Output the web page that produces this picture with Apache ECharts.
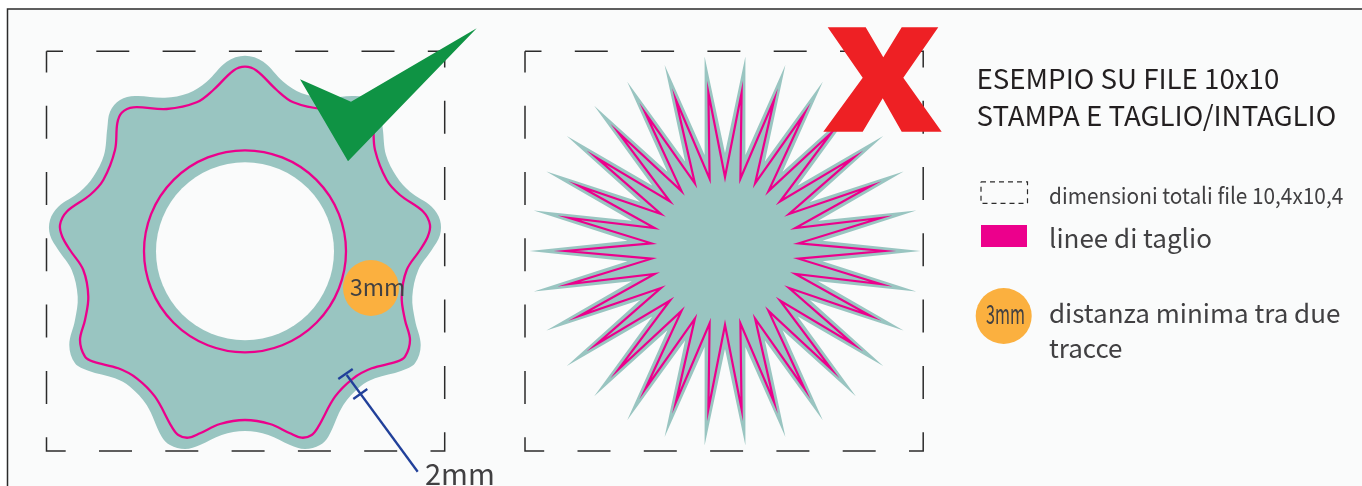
<!DOCTYPE html>
<html><head><meta charset="utf-8">
<style>html,body{margin:0;padding:0;background:#fff;overflow:hidden}#c{width:1362px;height:486px}</style>
<script src="https://cdn.jsdelivr.net/npm/echarts@6/dist/echarts.min.js"></script>
</head><body><div id="c"></div>
<script>
const panelOutline=[[7.5,9],[1400,9],[1400,520],[7.5,520]];
const gearDashBox=[[46.5,51.3],[444.7,51.3],[444.7,451],[46.5,451],[46.5,51.3]];
const starDashBox=[[525,51.3],[923.2,51.3],[923.2,451],[525,451],[525,51.3]];
const legendDashBox=[[981,181.8],[1027.5,181.8],[1027.5,203.3],[981,203.3],[981,181.8]];
const legendPinkBox=[[981,225],[1027,225],[1027,247],[981,247]];
const gearBleed=[[245,55.7],[226.7,61.7],[206.7,81.7],[188.3,93.3],[165,97.7],[135,96],[120,100],[110,111.7],[107.3,128.3],[104,155],[93.3,176.7],[80,191.7],[58.3,206.7],[50,220],[50,235],[58.3,250],[71.7,270],[77.7,296.7],[75,320],[69.3,345],[75,363.3],[88.3,370.7],[115,378.3],[130,386.7],[146.7,405],[161.7,436.7],[170,445],[185,449],[200,445],[221.7,435],[245,431],[268.3,435],[290,445],[305,449],[320,445],[328.3,436.7],[343.3,405],[360,386.7],[375,378.3],[401.7,370.7],[415,363.3],[420.7,345],[415,320],[412.3,296.7],[418.3,270],[431.7,250],[440,235],[440,220],[431.7,206.7],[410,191.7],[396.7,176.7],[386,155],[382.7,128.3],[380,111.7],[370,100],[355,96],[325,97.7],[301.7,93.3],[283.3,81.7],[263.3,61.7]];
const gearCut=[[245,66.7],[233.3,70.7],[213.3,90],[196.7,102.3],[166.7,109],[133.3,107.3],[121.7,112.7],[117.3,123.3],[115,150],[103.3,180],[90,195],[66.7,211.7],[60,225],[62.3,236.7],[70,250],[83.3,270],[88.3,296.7],[85,320],[80,340],[85,356.7],[93.3,361.7],[118.3,368.3],[136.7,378.3],[155,396.7],[171.7,426.7],[178.3,435],[188.3,437.7],[200,433.3],[220,424],[245,420],[270,424],[290,433.3],[301.7,437.7],[311.7,435],[318.3,426.7],[335,396.7],[353.3,378.3],[371.7,368.3],[396.7,361.7],[405,356.7],[410,340],[405,320],[401.7,296.7],[406.7,270],[420,250],[427.7,236.7],[430,225],[423.3,211.7],[400,195],[386.7,180],[375,150],[372.7,123.3],[368.3,112.7],[356.7,107.3],[323.3,109],[293.3,102.3],[276.7,90],[256.7,70.7]];
const starBleed=[[725,153],[745.4,56.6],[745.4,155.1],[785.4,65.1],[764.9,161.5],[822.8,81.7],[782.6,171.7],[855.8,105.7],[797.8,185.4],[883.2,136.1],[809.9,202],[903.6,171.5],[818.2,220.7],[916.2,210.4],[822.5,240.8],[920.5,251],[822.5,261.2],[916.2,291.6],[818.2,281.3],[903.6,330.5],[809.9,300],[883.2,365.9],[797.8,316.6],[855.8,396.3],[782.6,330.3],[822.8,420.3],[764.9,340.5],[785.4,436.9],[745.4,346.9],[745.4,445.4],[725,349],[704.6,445.4],[704.6,346.9],[664.6,436.9],[685.1,340.5],[627.2,420.3],[667.4,330.3],[594.2,396.3],[652.2,316.6],[566.8,365.9],[640.1,300],[546.4,330.5],[631.8,281.3],[533.8,291.6],[627.5,261.2],[529.5,251],[627.5,240.8],[533.8,210.4],[631.8,220.7],[546.4,171.5],[640.1,202],[566.8,136.1],[652.2,185.4],[594.2,105.7],[667.4,171.7],[627.2,81.7],[685.1,161.5],[664.6,65.1],[704.6,155.1],[704.6,56.6]];
const starCut=[[725,177],[741.6,92.9],[740.4,178.6],[774.1,99.8],[755.1,183.4],[804.5,113.3],[768.5,191.1],[831.4,132.8],[780,201.5],[853.6,157.6],[789.1,214],[870.3,186.3],[795.4,228.1],[880.5,218],[798.6,243.3],[884,251],[798.6,258.7],[880.5,284],[795.4,273.9],[870.3,315.7],[789.1,288],[853.6,344.4],[780,300.5],[831.4,369.2],[768.5,310.9],[804.5,388.7],[755.1,318.6],[774.1,402.2],[740.4,323.4],[741.6,409.1],[725,325],[708.4,409.1],[709.6,323.4],[675.9,402.2],[694.9,318.6],[645.5,388.7],[681.5,310.9],[618.6,369.2],[670,300.5],[596.4,344.4],[660.9,288],[579.7,315.7],[654.6,273.9],[569.5,284],[651.4,258.7],[566,251],[651.4,243.3],[569.5,218],[654.6,228.1],[579.7,186.3],[660.9,214],[596.4,157.6],[670,201.5],[618.6,132.8],[681.5,191.1],[645.5,113.3],[694.9,183.4],[675.9,99.8],[709.6,178.6],[708.4,92.9]];
const checkMark=[[476.7,28.3],[351,101.7],[300,79.3],[348,161.3]];
const crossMark=[[827.7,27.3],[865.7,27.3],[883.3,57.3],[901.7,27.3],[938.3,27.3],[903.3,77.7],[941.7,131.7],[901.7,131.7],[882.7,98.3],[862.7,131.7],[823.3,131.7],[862.7,77.7]];
const dimLine=[[346.7,375],[417.7,471.7]];
const dimTickA=[[338.3,379],[352.7,369]];
const dimTickB=[[353.3,399],[367.3,389]];
const holeDisc=[245,251.3,89];
const cutCircle=[245,251.3,101];
const dotMain=[371,288,28];
const dotLegend=[1003.7,316,28];
const labels=[
 ['3mm',350,287,23,'#414042',1,400],
 ['2mm',425,474,29,'#414042',1,400],
 ['ESEMPIO SU FILE 10x10',976.5,78,27.7,'#231f20',1,400],
 ['STAMPA E TAGLIO/INTAGLIO',976.5,115,27.7,'#231f20',1,400],
 ['dimensioni totali file 10,4x10,4',1049,195,22.5,'#414042',.925,400],
 ['linee di taglio',1049,238,26,'#414042',1,400],
 ['distanza minima tra due',1049,313,26,'#414042',1,400],
 ['tracce',1049,348,26,'#414042',1,400],
 ['3mm',986,314,27,'#414042',.6,400]
];
const TEAL='#99c5c1',PINK='#ec008c',BG='#fafbfb',ORANGE='#fbb03f',FONT='"Noto Sans CJK SC","Noto Sans",sans-serif';

function shape(points,type,style,smooth){
  return {type:'custom',coordinateSystem:'cartesian2d',silent:true,clip:false,data:[points[0]],
    renderItem:(p,api)=>({type,shape:{points:points.map(q=>api.coord(q)),smooth:smooth||0},style})};
}
function disc(c,style){
  return {type:'custom',coordinateSystem:'cartesian2d',silent:true,clip:false,data:[[c[0],c[1]]],
    renderItem:(p,api)=>{const o=api.coord([c[0],c[1]]);return {type:'circle',shape:{cx:o[0],cy:o[1],r:api.size([c[2],0])[0]},style};}};
}
function text(l){
  return {type:'custom',coordinateSystem:'cartesian2d',silent:true,clip:false,data:[[l[1],l[2]]],
    renderItem:(p,api)=>{const o=api.coord([l[1],l[2]]);return {type:'text',x:o[0],y:o[1],scaleX:l[5],
      style:{text:l[0],x:0,y:0,fontSize:l[3],fontFamily:FONT,fontWeight:l[6],fill:l[4],align:'left',verticalAlign:'middle'}};}};
}
const dash={fill:'none',stroke:'#2b2b2b',lineWidth:1.5,lineDash:[33,33.3],lineDashOffset:16.5};
const series=[
 shape(panelOutline,'polygon',{fill:BG,stroke:'#2b2b2b',lineWidth:1.5}),
 shape(gearDashBox,'polyline',dash),
 shape(starDashBox,'polyline',dash),
 shape(gearBleed,'polygon',{fill:TEAL},0.35),
 disc(holeDisc,{fill:BG}),
 disc(cutCircle,{fill:'none',stroke:PINK,lineWidth:2.3}),
 shape(gearCut,'polygon',{fill:'none',stroke:PINK,lineWidth:2.3},0.35),
 shape(starBleed,'polygon',{fill:TEAL}),
 shape(starCut,'polygon',{fill:'none',stroke:PINK,lineWidth:2.2,lineJoin:'miter',miterLimit:30}),
 shape(checkMark,'polygon',{fill:'#0f9344'}),
 shape(crossMark,'polygon',{fill:'#ee2024'}),
 disc(dotMain,{fill:ORANGE}),
 shape(dimLine,'polyline',{fill:'none',stroke:'#21409a',lineWidth:2.3}),
 shape(dimTickA,'polyline',{fill:'none',stroke:'#21409a',lineWidth:2.3}),
 shape(dimTickB,'polyline',{fill:'none',stroke:'#21409a',lineWidth:2.3}),
 shape(legendDashBox,'polyline',{fill:'none',stroke:'#2b2b2b',lineWidth:1.2,lineDash:[5,4]}),
 shape(legendPinkBox,'polygon',{fill:PINK}),
 disc(dotLegend,{fill:ORANGE})
].concat(labels.map(text));
const chart=echarts.init(document.getElementById('c'),null,{renderer:'canvas'});
chart.setOption({animation:false,backgroundColor:'#fff',tooltip:{show:false},legend:{show:false},
 grid:{left:0,right:0,top:0,bottom:0,containLabel:false},
 xAxis:{type:'value',min:0,max:1362,show:false},
 yAxis:{type:'value',min:0,max:486,inverse:true,show:false},
 series});
</script></body></html>
